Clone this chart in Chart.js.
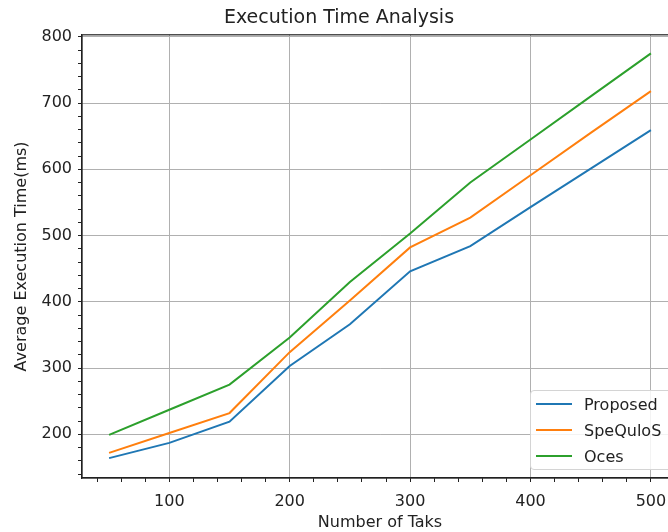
<!DOCTYPE html>
<html>
<head>
<meta charset="utf-8">
<script src="https://cdn.jsdelivr.net/npm/chart.js@4"></script>
<style>
  body { margin: 0; overflow: hidden; background: #fff; }
  #wrap { position: relative; width: 760px; height: 532px; }
  #legend {
    position: absolute; left: 530px; top: 390px; width: 150px; height: 78px;
    border: 1px solid #d4d4d4; border-radius: 4px; background: rgba(255,255,255,0.85);
    font-family: 'DejaVu Sans'; font-size: 16px; color: #222;
  }
  .row { position: absolute; left: 0; height: 20px; display: flex; align-items: center; }
  .sw { width: 36px; height: 2px; margin-left: 5px; margin-right: 12px; }
</style>
</head>
<body>
<div id="wrap">
  <canvas id="myChart" width="760" height="532"></canvas>
  <div id="legend"></div>
</div>
<script>
const tasks = [50, 100, 150, 200, 250, 300, 350, 400, 450, 500];
const proposed = [164, 187, 219, 303, 366, 446, 484, 543, 601, 659];
const spequlos = [172, 202, 232, 324, 402, 482, 527, 591, 655, 718];
const oces = [199, 237, 275, 346, 430, 503, 580, 645, 710, 775];
const seriesNames = ['Proposed', 'SpeQuloS', 'Oces'];
const seriesColors = ['#1f77b4', '#ff7f0e', '#2ca02c'];

const toPoints = (vals) => vals.map((v, i) => ({ x: tasks[i], y: v }));

// top spine (matplotlib style frame)
const framePlugin = {
    id: 'frame',
    afterDraw(chart) {
        const a = chart.chartArea;
        const ctx = chart.ctx;
        ctx.save();
        ctx.strokeStyle = '#222';
        ctx.lineWidth = 1.2;
        ctx.strokeRect(a.left, a.top, a.right - a.left, a.bottom - a.top);
        ctx.restore();
    }
};

Chart.defaults.font.family = 'DejaVu Sans';
Chart.defaults.font.size = 16;
Chart.defaults.color = '#222';

const allSeries = [proposed, spequlos, oces];

new Chart(document.getElementById('myChart'), {
    type: 'line',
    data: {
        datasets: allSeries.map((s, i) => ({
            label: seriesNames[i],
            data: toPoints(s),
            borderColor: seriesColors[i],
            backgroundColor: seriesColors[i],
            borderWidth: 2,
            pointRadius: 0,
            tension: 0,
            fill: false
        }))
    },
    options: {
        responsive: false,
        animation: false,
        layout: { padding: { left: 0, right: 82, top: 0, bottom: 0 } },
        plugins: {
            legend: { display: false },
            tooltip: { enabled: false },
            title: {
                display: true,
                text: 'Execution Time Analysis',
                font: { size: 19, weight: 'normal' },
                color: '#222',
                padding: { top: 7, bottom: 5 }
            }
        },
        scales: {
            x: {
                type: 'linear',
                min: 27.5,
                max: 522.5,
                afterFit: (s) => { s.height = 54; },
                ticks: {
                    stepSize: 20,
                    includeBounds: false,
                    autoSkip: false,
                    maxRotation: 0,
                    padding: 10,
                    callback: (v) => (v % 100 === 0 ? v : '')
                },
                grid: {
                    color: (c) => (c.tick && c.tick.value % 100 === 0 ? '#b0b0b0' : 'rgba(0,0,0,0)'),
                    tickColor: '#222',
                    tickLength: 4,
                    lineWidth: 1
                },
                border: { display: true, color: '#222', width: 1.2 },
                title: {
                    display: true,
                    text: 'Number of Taks',
                    padding: { top: 0, bottom: 0 }
                }
            },
            y: {
                min: 134,
                max: 803,
                afterFit: (s) => { s.width = 82; },
                ticks: {
                    stepSize: 20,
                    includeBounds: false,
                    autoSkip: false,
                    padding: 6,
                    callback: (v) => (v % 100 === 0 ? v : '')
                },
                grid: {
                    color: (c) => (c.tick && c.tick.value % 100 === 0 ? '#b0b0b0' : 'rgba(0,0,0,0)'),
                    tickColor: '#222',
                    tickLength: 4,
                    lineWidth: 1
                },
                border: { display: true, color: '#222', width: 1.2 },
                title: {
                    display: true,
                    text: 'Average Execution Time(ms)',
                    padding: { top: 12, bottom: 0 }
                }
            }
        }
    },
    plugins: [framePlugin]
});

// legend box, lower right inside the plot
const legendBox = document.getElementById('legend');
seriesNames.forEach((name, i) => {
    const row = document.createElement('div');
    row.className = 'row';
    row.style.top = (3 + i * 26) + 'px';
    const sw = document.createElement('span');
    sw.className = 'sw';
    sw.style.background = seriesColors[i];
    const label = document.createElement('span');
    label.innerText = name;
    row.appendChild(sw);
    row.appendChild(label);
    legendBox.appendChild(row);
});
</script>
</body>
</html>
